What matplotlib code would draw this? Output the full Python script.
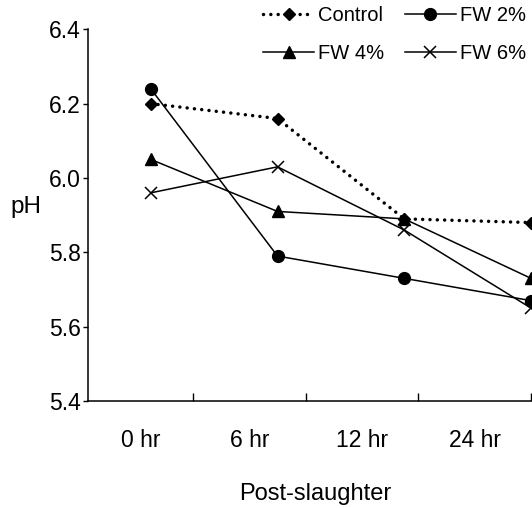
import numpy as np
import matplotlib
matplotlib.use("Agg")
import matplotlib.pyplot as plt
from matplotlib.ticker import FixedLocator, FormatStrFormatter, NullFormatter

# pH of meat after slaughter
times = ["0 hr", "6 hr", "12 hr", "24 hr"]
control = [6.20, 6.16, 5.89, 5.88]
fw2 = [6.24, 5.79, 5.73, 5.67]
fw4 = [6.05, 5.91, 5.89, 5.73]
fw6 = [5.96, 6.03, 5.86, 5.65]
yticks = [5.4, 5.6, 5.8, 6.0, 6.2, 6.4]

plt.rcParams['font.family'] = ['Liberation Sans', 'DejaVu Sans']

W, H = 532, 508
fig = plt.figure(figsize=(W / 100, H / 100), dpi=100)
ax = fig.add_axes([88 / W, 107 / H, 443 / W, 371.7 / H])

n = len(times)
x0 = 0.068
# points sit evenly spaced, last one on the right edge
x_pos = 0.625 + 1.125 * np.arange(n)

common = dict(color='black', clip_on=False, markeredgecolor='black')
h_c, = ax.plot(x_pos, control, linestyle=(0, (0.01, 2.1)), linewidth=2.5,
               dash_capstyle='round', marker='D', markersize=6, label='Control', **common)
h_2, = ax.plot(x_pos, fw2, linewidth=1.1, marker='o', markersize=8.5, label='FW 2%', **common)
h_4, = ax.plot(x_pos, fw4, linewidth=1.1, marker='^', markersize=9, label='FW 4%', **common)
h_6, = ax.plot(x_pos, fw6, linewidth=1.1, marker='x', markersize=8.5, markeredgewidth=1.1,
               label='FW 6%', **common)

ax.set_xlim(x0, n)
ax.set_ylim(5.4, 6.4)

bounds = [x0] + list(range(1, n + 1))
mids = [(bounds[i] + bounds[i + 1]) / 2 for i in range(n)]
ax.xaxis.set_major_locator(FixedLocator(range(1, n + 1)))
ax.xaxis.set_major_formatter(NullFormatter())
ax.xaxis.set_minor_locator(FixedLocator(mids))
ax.set_xticklabels(times, minor=True)
ax.tick_params(axis='x', which='major', direction='in', length=5.5, width=1)
ax.tick_params(axis='x', which='minor', length=0, pad=20, labelsize=16.5)

ax.set_yticks(yticks)
ax.yaxis.set_major_formatter(FormatStrFormatter('%.1f'))
ax.tick_params(axis='y', direction='out', length=3.6, width=1, pad=1.5, labelsize=16.5)

for side in ['top', 'right']:
    ax.spines[side].set_visible(False)
for side in ['left', 'bottom']:
    ax.spines[side].set_linewidth(1.1)

fig.text(315 / W, 1 - 494 / H, 'Post-slaughter', ha='center', va='center', fontsize=17)
fig.text(10 / W, 1 - 207 / H, 'pH', ha='left', va='center', fontsize=17.5)

# column-major fill, so this order gives Control / FW 2% on the first row
fig.legend([h_c, h_4, h_2, h_6], ['Control', 'FW 4%', 'FW 2%', 'FW 6%'],
           loc='upper left', bbox_to_anchor=(263 / W, 1 - 6 / H), ncol=2,
           frameon=False, fontsize=14.5, borderpad=0, borderaxespad=0,
           handlelength=2.55, handletextpad=0.2, columnspacing=1.0,
           labelspacing=0.95, numpoints=1)

fig.savefig('out.png', dpi=100)
